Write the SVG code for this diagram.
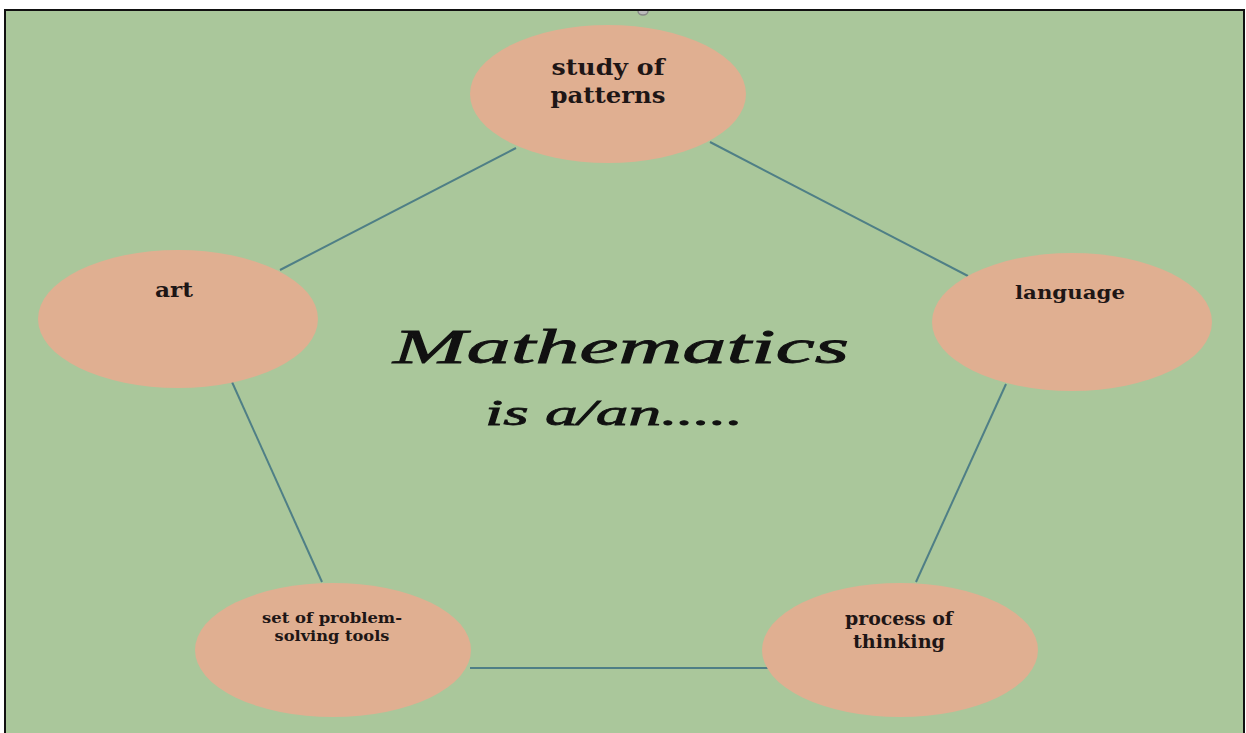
<svg xmlns="http://www.w3.org/2000/svg" width="1246" height="733" viewBox="0 0 1246 733">
<style>
.node{fill:#e0af91}
.lbl{font-family:"DejaVu Serif","Liberation Serif",serif;font-weight:bold;fill:#1e1616;text-anchor:middle}
.edge{stroke:#4f7f86;stroke-width:2;fill:none}
.hand{font-family:"Liberation Serif",serif;font-style:italic;fill:#111;stroke:#111;stroke-width:0.8;text-anchor:middle}
</style>
<rect x="0" y="0" width="1246" height="733" fill="#ffffff"/>
<rect x="5" y="10" width="1239" height="723" fill="#aac79b"/>
<line x1="4" y1="10" x2="1245" y2="10" stroke="#111" stroke-width="2"/>
<line x1="5" y1="10" x2="5" y2="733" stroke="#111" stroke-width="2"/>
<line x1="1244" y1="10" x2="1244" y2="733" stroke="#111" stroke-width="2"/>
<path d="M638 11 A5 4 0 0 0 648 11" fill="#bbb" stroke="#888" stroke-width="1.5"/>
<g id="connectors">
<line class="edge" x1="516" y1="148" x2="280" y2="270"/>
<line class="edge" x1="710" y1="142" x2="968" y2="276"/>
<line class="edge" x1="232" y1="382" x2="322" y2="582"/>
<line class="edge" x1="1006" y1="384" x2="916" y2="582"/>
<line class="edge" x1="470" y1="668" x2="768" y2="668"/>
</g>
<g id="node-study">
<ellipse class="node" cx="608" cy="94" rx="138" ry="69"/>
<text class="lbl" x="608" y="75" font-size="23" textLength="113" lengthAdjust="spacingAndGlyphs">study of</text>
<text class="lbl" x="608" y="103" font-size="23" textLength="115" lengthAdjust="spacingAndGlyphs">patterns</text>
</g>
<g id="node-art">
<ellipse class="node" cx="178" cy="319" rx="140" ry="69"/>
<text class="lbl" x="174" y="297" font-size="21" textLength="38" lengthAdjust="spacingAndGlyphs">art</text>
</g>
<g id="node-language">
<ellipse class="node" cx="1072" cy="322" rx="140" ry="69"/>
<text class="lbl" x="1070" y="299" font-size="19" textLength="110" lengthAdjust="spacingAndGlyphs">language</text>
</g>
<g id="node-tools">
<ellipse class="node" cx="333" cy="650" rx="138" ry="67"/>
<text class="lbl" x="332" y="623" font-size="14.5" textLength="140" lengthAdjust="spacingAndGlyphs">set of problem-</text>
<text class="lbl" x="332" y="641" font-size="14.5" textLength="115" lengthAdjust="spacingAndGlyphs">solving tools</text>
</g>
<g id="node-thinking">
<ellipse class="node" cx="900" cy="650" rx="138" ry="67"/>
<text class="lbl" x="899" y="625" font-size="19" textLength="108" lengthAdjust="spacingAndGlyphs">process of</text>
<text class="lbl" x="899" y="648" font-size="19" textLength="92" lengthAdjust="spacingAndGlyphs">thinking</text>
</g>
<g id="title">
<text class="hand" x="621" y="363" font-size="48" textLength="456" lengthAdjust="spacingAndGlyphs">Mathematics</text>
<text class="hand" x="614" y="425" font-size="36" textLength="258" lengthAdjust="spacingAndGlyphs">is a/an.....</text>
</g>
</svg>
